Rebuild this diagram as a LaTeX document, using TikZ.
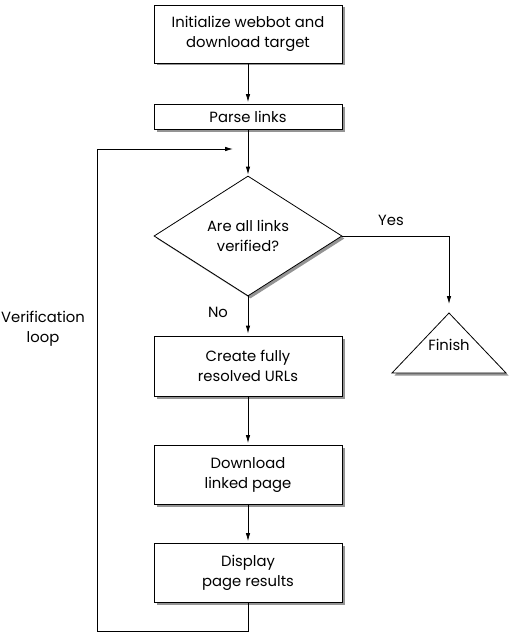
\documentclass[tikz,border=0pt]{standalone}
\usepackage{fontspec}
\setmainfont{Poppins}
\usetikzlibrary{arrows.meta,shapes.geometric,shadows}
\begin{document}
\begin{tikzpicture}[x=1pt,y=-1pt,
  font=\fontsize{14.8}{20}\selectfont,
  shad/.style={drop shadow={shadow xshift=2.5pt,shadow yshift=-2.5pt,fill=black!60,opacity=0.7}},
  box/.style={draw,thick,fill=white,shad,minimum width=188pt,align=center,inner sep=0pt},
  dec/.style={draw,thick,fill=white,shad,diamond,minimum width=188pt,minimum height=120pt,inner sep=0pt,align=center},
  arr/.style={-{Latex[length=8pt,width=4.5pt]},line width=0.8pt},
  lbl/.style={align=center,inner sep=0pt}]
\useasboundingbox (0,0) rectangle (514,634);
\node[box,minimum height=58pt] (init) at (248,34) {Initialize webbot and\\download target};
\node[box,minimum height=25pt] (parse) at (248,117) {Parse links};
\node[dec] (verif) at (248,236) {Are all links\\verified?};
\node[box,minimum height=60pt] (create) at (248,366) {Create fully\\resolved URLs};
\node[box,minimum height=59pt] (down) at (248,475) {Download\\linked page};
\node[box,minimum height=59pt] (disp) at (248,573) {Display\\page results};
\coordinate (fintop) at (449,313);
\draw[thick,fill=white,shad] (fintop) -- (506,373) -- (392,373) -- cycle;
\node[lbl] (finish) at (449,345) {Finish};
\node[lbl] (yes) at (391,220) {Yes};
\node[lbl] (no) at (218,312) {No};
\node[lbl] (loop) at (43,329) {Verification\\loop};
\coordinate (yc) at (449,236);
\coordinate (lb) at (248,631);
\coordinate (lbl2) at (97,631);
\coordinate (ltl) at (97,149);
\coordinate (lend) at (233,149);
\draw[arr,shorten >=2pt] (init) -- (parse);
\draw[arr,shorten >=1pt] (parse) -- (verif);
\draw[arr,shorten >=2pt] (verif) -- (create);
\draw[arr,shorten >=2pt] (create) -- (down);
\draw[arr,shorten >=2pt] (down) -- (disp);
\draw[arr,shorten >=9pt] (verif.east) -- (yc) -- (fintop);
\draw[arr] (disp.south) -- (lb) -- (lbl2) -- (ltl) -- (lend);
\end{tikzpicture}
\end{document}
